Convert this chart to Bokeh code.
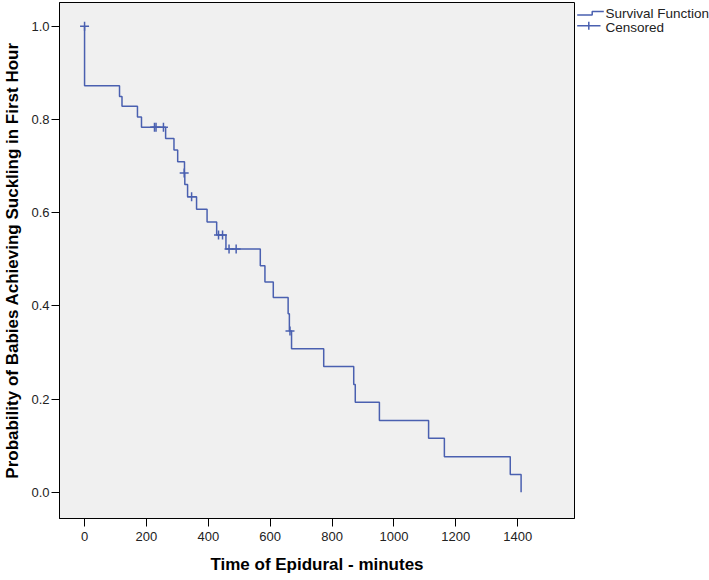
from bokeh.plotting import figure
from bokeh.models import Range1d, FixedTicker, PrintfTickFormatter, ColumnDataSource
from bokeh.layouts import row
from bokeh.core.properties import value
from bokeh.embed import file_html
from bokeh.resources import INLINE

# Kaplan-Meier survival function (time in minutes, survival probability after the step)
step_times = [0, 0, 113, 121, 171, 184, 262, 289, 301, 323, 324, 333, 362, 396,
              427, 457, 568, 583, 610, 658, 662, 669, 773, 870, 875, 953,
              1112, 1163, 1376, 1411]
step_surv = [1.0, 0.872, 0.849, 0.828, 0.805, 0.783, 0.759, 0.734, 0.709, 0.685,
             0.660, 0.634, 0.607, 0.580, 0.552, 0.522, 0.486, 0.451, 0.418, 0.383,
             0.346, 0.308, 0.270, 0.231, 0.193, 0.154, 0.116, 0.076, 0.038, 0.0]

# Censored observations
cens_times = [0, 226, 231, 255, 322, 346, 433, 446, 467, 490, 664]
cens_surv = [1.0, 0.783, 0.783, 0.783, 0.685, 0.634, 0.552, 0.552, 0.522, 0.522, 0.346]

x_ticks = [0, 200, 400, 600, 800, 1000, 1200, 1400]
y_ticks = [0.0, 0.2, 0.4, 0.6, 0.8, 1.0]
legend_labels = ["Survival Function", "Censored"]

BLUE = "#4A60B0"
FONT = "Liberation Sans"
H = 576

p = figure(width=575, height=H,
           x_range=Range1d(-81, 1583.6), y_range=Range1d(-0.0563, 1.0507),
           output_backend="svg", toolbar_location=None,
           min_border_top=2, min_border_left=0, min_border_right=1, min_border_bottom=0)

p.background_fill_color = "#F0F0F0"
p.border_fill_color = "white"
p.outline_line_color = "black"
p.outline_line_width = 1
p.xgrid.visible = False
p.ygrid.visible = False

src = ColumnDataSource(dict(t=step_times, s=step_surv))
p.step(x="t", y="s", source=src, mode="after", line_color=BLUE, line_width=1.5)
csrc = ColumnDataSource(dict(t=cens_times, s=cens_surv))
p.scatter(x="t", y="s", source=csrc, marker="cross", size=9,
          line_color=BLUE, line_width=1.5)

p.xaxis.ticker = FixedTicker(ticks=x_ticks)
p.yaxis.ticker = FixedTicker(ticks=y_ticks)
p.yaxis.formatter = PrintfTickFormatter(format="%.1f")

for ax in (p.xaxis, p.yaxis):
    ax.axis_line_color = "black"
    ax.major_tick_line_color = "black"
    ax.major_tick_in = 0
    ax.major_tick_out = 8
    ax.minor_tick_line_color = None
    ax.major_label_text_font = FONT
    ax.major_label_text_font_size = "13px"
    ax.major_label_text_color = "#222222"
    ax.axis_label_text_font = FONT
    ax.axis_label_text_font_size = "17px"
    ax.axis_label_text_font_style = "bold"
    ax.axis_label_text_color = "black"

p.xaxis.axis_label = "Time of Epidural - minutes"
p.yaxis.axis_label = "Probability of Babies Achieving Suckling in First Hour"
p.xaxis.major_label_standoff = 5
p.xaxis.axis_label_standoff = 11
p.yaxis.major_label_standoff = 2
p.yaxis.axis_label_standoff = 6

# Legend drawn in a small companion panel (pixel coordinates, y downwards)
lg = figure(width=134, height=H, x_range=Range1d(0, 134), y_range=Range1d(H, 0),
            output_backend="svg", toolbar_location=None,
            min_border=0, outline_line_color=None)
lg.axis.visible = False
lg.grid.visible = False
lg.background_fill_color = "white"
lg.border_fill_color = "white"
# step-shaped icon for the survival function
lg.line(x=[1.7, 16.7, 16.7, 28.3], y=[14, 14, 10, 10], line_color=BLUE, line_width=1.5)
# cross icon for censored
lg.line(x=[1.7, 25], y=[26, 26], line_color=BLUE, line_width=1.5)
lg.line(x=[13.3, 13.3], y=[21.5, 30.5], line_color=BLUE, line_width=1.5)
lg.text(x=[30, 30], y=[12, 27.5], text=legend_labels,
        text_font=value(FONT), text_font_size="13.5px", text_color="#222222",
        text_baseline="middle", text_align="left")

open("out.html", "w").write(file_html(row(p, lg), INLINE))
